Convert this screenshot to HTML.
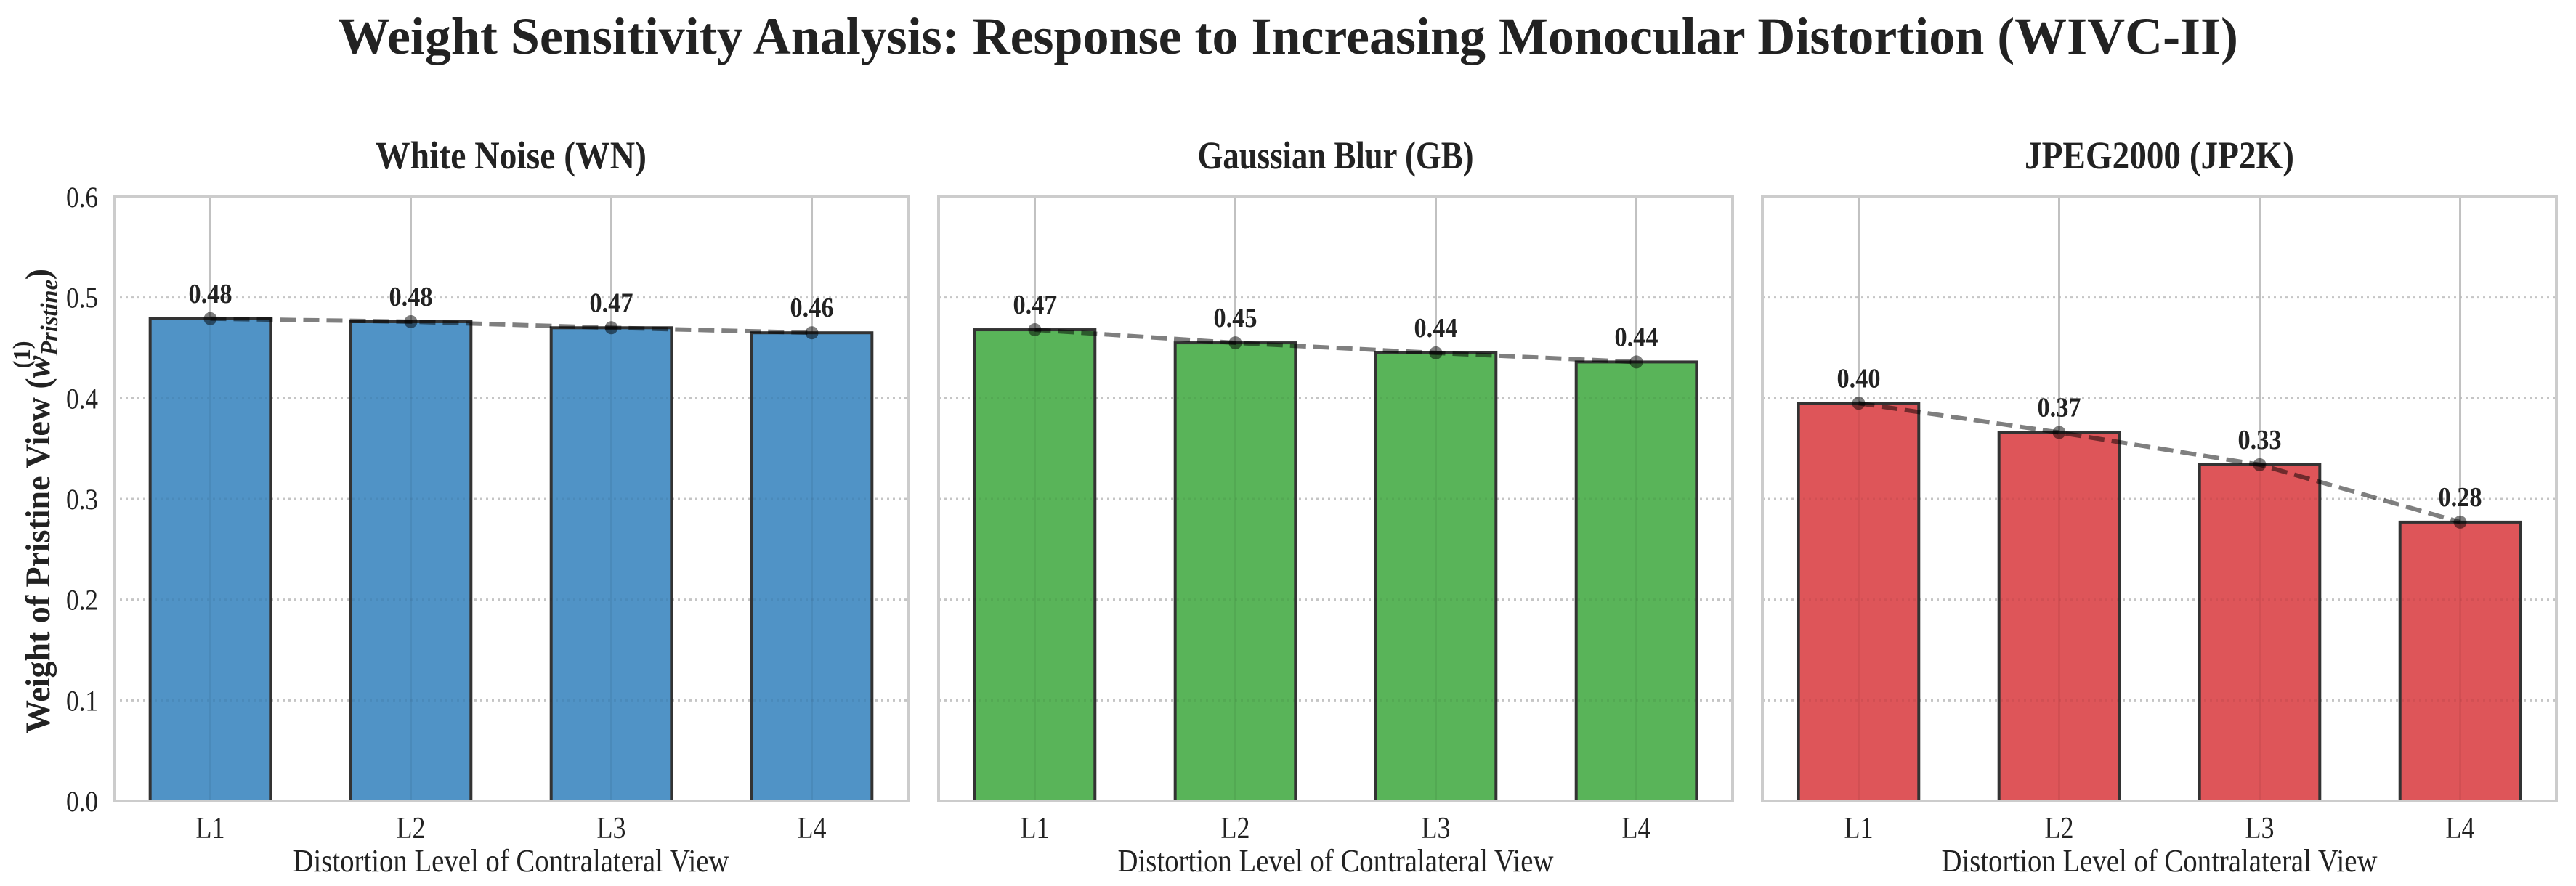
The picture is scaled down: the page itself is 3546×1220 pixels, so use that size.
<!DOCTYPE html>
<html><head><meta charset="utf-8"><style>
html,body{margin:0;padding:0;background:#fff;}
svg{display:block;font-family:"Liberation Serif",serif;}
</style></head><body>
<svg id="chart" width="3546" height="1220" viewBox="0 0 3546 1220" xmlns="http://www.w3.org/2000/svg">
<rect width="3546" height="1220" fill="#fff"/>
<text x="1773" y="74" text-anchor="middle" font-size="72" font-weight="bold" fill="#222" textLength="2616" lengthAdjust="spacingAndGlyphs">Weight Sensitivity Analysis: Response to Increasing Monocular Distortion (WIVC-II)</text>
<text transform="translate(68,690) rotate(-90)" text-anchor="middle" font-size="48" font-weight="bold" fill="#222" textLength="640" lengthAdjust="spacingAndGlyphs">Weight of Pristine View (<tspan font-style="italic">w</tspan><tspan font-size="34" font-style="italic" dy="11">Pristine</tspan><tspan font-size="34" dx="-128" dy="-38">(1)</tspan><tspan dx="88" dy="27">)</tspan></text>
<g id="panels"></g>
</svg>
<script>
const categories = ["L1","L2","L3","L4"];
const panelTitles = ["White Noise (WN)","Gaussian Blur (GB)","JPEG2000 (JP2K)"];
const wnValues = [0.479,0.476,0.470,0.465];
const gbValues = [0.468,0.455,0.445,0.436];
const jp2kValues = [0.395,0.366,0.334,0.277];
const valueLabels = [["0.48","0.48","0.47","0.46"],["0.47","0.45","0.44","0.44"],["0.40","0.37","0.33","0.28"]];
const yTicks = [0.0,0.1,0.2,0.3,0.4,0.5,0.6];
const yTickLabels = ["0.0","0.1","0.2","0.3","0.4","0.5","0.6"];

const series = [wnValues, gbValues, jp2kValues];
const colors = ["#4a90c4","#54b254","#dd5054"];
const panelLefts = [157,1292,2426];
const titleWidths = [373,380,371];
const panelW = 1093, yTop = 271, yBottom = 1103;
const NS = "http://www.w3.org/2000/svg";
const root = document.getElementById('panels');
function mk(tag, attrs, parent){const e=document.createElementNS(NS,tag);for(const k in attrs)e.setAttribute(k,attrs[k]);(parent||root).appendChild(e);return e;}
function yScale(v){return yBottom-(v-0)/(0.6-0)*(yBottom-yTop);}
series.forEach((vals,p)=>{
  const L = panelLefts[p];
  const xScale = i => L + (i+0.48)/3.96*panelW;
  const bw = 0.6/3.96*panelW;
  const g = mk('g',{});
  
  
  yTicks.forEach((t,i)=>{
    if(i>0 && i<yTicks.length-1){
      const gl = mk('line',{x1:L,x2:L+panelW,y1:yScale(t),y2:yScale(t),stroke:'#d0d0d0','stroke-width':3,'stroke-dasharray':'3 5'},g);
      
      
    }
    if(p===0){
      const tl = mk('text',{x:L-22,y:yScale(t)+14,'text-anchor':'end','font-size':40,fill:'#222',textLength:44,lengthAdjust:'spacingAndGlyphs'},g);
      tl.textContent = yTickLabels[i];
      
      
    }
  });
  categories.forEach((c,i)=>{
    const vl = mk('line',{x1:xScale(i),x2:xScale(i),y1:yTop,y2:yBottom,stroke:'#cccccc','stroke-width':3},g);
    
    
  });
  vals.forEach((v,i)=>{
    const b = mk('rect',{x:xScale(i)-bw/2,y:yScale(v),width:bw,height:yScale(0)-yScale(v),fill:colors[p],'fill-opacity':0.97,stroke:'#333','stroke-width':4},g);
    
    
  });
  yTicks.forEach((t,i)=>{ if(i>0&&i<yTicks.length-1){ mk('line',{x1:L,x2:L+panelW,y1:yScale(t),y2:yScale(t),stroke:'#000','stroke-opacity':0.05,'stroke-width':3,'stroke-dasharray':'3 5'},g);} });
  categories.forEach((c,i)=>{ mk('line',{x1:xScale(i),x2:xScale(i),y1:yTop,y2:yBottom,stroke:'#000','stroke-opacity':0.05,'stroke-width':3},g); });
  const fr = mk('rect',{x:L,y:yTop,width:panelW,height:yBottom-yTop,fill:'none',stroke:'#cccccc','stroke-width':4},g);
  
  
  const pts = vals.map((v,i)=>xScale(i)+','+yScale(v)).join(' ');
  const tl = mk('polyline',{points:pts,fill:'none',stroke:'#000','stroke-opacity':0.5,'stroke-width':6,'stroke-dasharray':'22 10'},g);
  
  
  vals.forEach((v,i)=>{
    const pt = mk('circle',{cx:xScale(i),cy:yScale(v),r:9,fill:'#000','fill-opacity':0.5},g);
    
    
    const lb = mk('text',{x:xScale(i),y:yScale(v)-22,'text-anchor':'middle','font-size':38,'font-weight':'bold',fill:'#222',textLength:60,lengthAdjust:'spacingAndGlyphs'},g);
    lb.textContent = valueLabels[p][i];
    
    
    const xl = mk('text',{x:xScale(i),y:1154,'text-anchor':'middle','font-size':42,fill:'#222',textLength:40,lengthAdjust:'spacingAndGlyphs'},g);
    xl.textContent = categories[i];
    
    
  });
  const xt = mk('text',{x:L+panelW/2,y:1200,'text-anchor':'middle','font-size':44,fill:'#222',textLength:600,lengthAdjust:'spacingAndGlyphs'},g);
  xt.textContent = 'Distortion Level of Contralateral View';
  
  
  const pt = mk('text',{x:L+panelW/2,y:232,'text-anchor':'middle','font-size':54,'font-weight':'bold',fill:'#222',textLength:titleWidths[p],lengthAdjust:'spacingAndGlyphs'},g);
  pt.textContent = panelTitles[p];
  
  
});
</script>
</body></html>
